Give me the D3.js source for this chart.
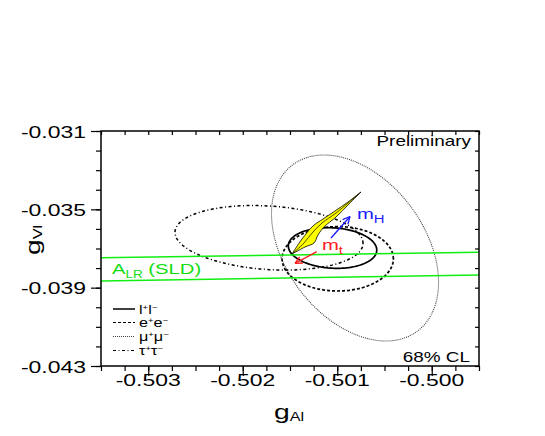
<!DOCTYPE html>
<html>
<head>
<meta charset="utf-8">
<script src="https://cdn.jsdelivr.net/npm/d3@7"></script>
<style>
  body { margin: 0; background: #fff; }
  text { font-family: "Liberation Sans", Arial, sans-serif; }
</style>
</head>
<body>
<div id="chart"></div>
<script>
// axis ranges and labels
var xDomain = [-0.5035, -0.4995];
var yDomain = [-0.043, -0.031];
var xTickLabels = [-0.503, -0.502, -0.501, -0.500];
var yTickLabels = [-0.031, -0.035, -0.039, -0.043];

// 68% CL contours: centre, half extents, correlation
var ellNames  = ["ll", "ee", "mumu", "tautau"];
var ellCenterA = [-0.50105, -0.500995, -0.500812, -0.501722];
var ellCenterV = [-0.036975, -0.037526, -0.036975, -0.036454];
var ellSigmaA  = [0.000468, 0.000589, 0.000884, 0.000995];
var ellSigmaV  = [0.001037, 0.001644, 0.004749, 0.001649];
var ellRho     = [-0.1, 0.0, -0.37, -0.17];

// SM prediction band (yellow)
var bandUpperA = [-0.501479, -0.501373, -0.501257, -0.501151, -0.501024, -0.500886, -0.500749];
var bandUpperV = [-0.037281, -0.036515, -0.035851, -0.035494, -0.035085, -0.034626, -0.034115];
var bandLowerA = [-0.501479, -0.501341, -0.501246, -0.501204, -0.50114, -0.501013, -0.500876, -0.500749];
var bandLowerV = [-0.037281, -0.036923, -0.036719, -0.036311, -0.035902, -0.035392, -0.034728, -0.034115];
var bandMidA = [-0.501479, -0.501352, -0.501257, -0.501161, -0.501013, -0.500749];
var bandMidV = [-0.037281, -0.036719, -0.036158, -0.035698, -0.035187, -0.034115];

// A_LR (SLD) band edges
var alrA = [-0.5035, -0.4995];
var alrUpperV = [-0.037471, -0.037195];
var alrLowerV = [-0.038661, -0.038354];

// arrows: [gA start, gV start, gA end, gV end]
var mHArrow = [-0.501066, -0.036464, -0.500865, -0.035366];
var mtArrow = [-0.501217, -0.037163, -0.501447, -0.037756];

var W = 545, H = 436;
var SX = 1.35; // wide lettering

var svg = d3.select("#chart").append("svg")
    .attr("width", W)
    .attr("height", H);

var x = d3.scaleLinear().domain(xDomain).range([101, 479]);
var y = d3.scaleLinear().domain(yDomain).range([366, 131]);

// ticks
var xMinor = d3.range(0, 17).map(function(i) { return +(xDomain[0] + i * 0.00025).toFixed(5); });
var yMinor = y.ticks(12);

function noLabels(a) { return a.tickFormat(""); }

svg.append("g").attr("transform", "translate(0,366)")
    .call(noLabels(d3.axisBottom(x).tickValues(xMinor).tickSize(5)));
svg.append("g").attr("transform", "translate(0,366)")
    .call(noLabels(d3.axisBottom(x).tickValues(xTickLabels).tickSize(10)));
svg.append("g").attr("transform", "translate(0,131)")
    .call(noLabels(d3.axisBottom(x).tickValues(xMinor).tickSize(4)));
svg.append("g").attr("transform", "translate(101,0)")
    .call(noLabels(d3.axisLeft(y).tickValues(yMinor).tickSize(5)));
svg.append("g").attr("transform", "translate(101,0)")
    .call(noLabels(d3.axisLeft(y).tickValues(yTickLabels).tickSize(10)));
svg.append("g").attr("transform", "translate(479,0)")
    .call(noLabels(d3.axisLeft(y).tickValues(yMinor).tickSize(-4).tickSizeInner(4)));

svg.selectAll(".domain").remove();
svg.selectAll(".tick line").attr("stroke", "#000").attr("stroke-width", 1.2);

// text helper: parts = [{t, size, dy}]
function label(sel, px, py, anchor, size, parts, color, rot) {
    var tr = "translate(" + px + "," + py + ")" + (rot ? " rotate(" + rot + ")" : "") + " scale(" + SX + ",1)";
    var t = sel.append("text")
        .attr("transform", tr)
        .attr("text-anchor", anchor)
        .attr("fill", color || "#000")
        .style("font-size", size + "px");
    parts.forEach(function(p) {
        t.append("tspan")
            .attr("dy", p.dy || 0)
            .style("font-size", (p.size || size) + "px")
            .text(p.t);
    });
    return t;
}

function fmt(v) { return v.toFixed(3).replace("\u2212", "-"); }

xTickLabels.forEach(function(v) {
    label(svg, x(v), 386, "middle", 17, [{t: fmt(v)}]);
});
yTickLabels.forEach(function(v) {
    label(svg, 86, y(v) + 6.5, "end", 17, [{t: fmt(v)}]);
});

// axis titles
label(svg, 289, 419, "middle", 21, [{t: "g"}, {t: "Al", size: 12, dy: 2}]);
label(svg, 40, 240, "middle", 21, [{t: "g"}, {t: "Vl", size: 12, dy: 2}], "#000", -90);

// clip to frame
svg.append("clipPath").attr("id", "frame")
    .append("rect").attr("x", 101).attr("y", 131).attr("width", 378).attr("height", 235);

var plot = svg.append("g").attr("clip-path", "url(#frame)");

// contour ellipses
var ellStyles = {
    ll:     {w: 1.7, dash: null, color: "#000"},
    ee:     {w: 1.7, dash: "3,2", color: "#000"},
    mumu:   {w: 1.1, dash: "1,1", color: "#444"},
    tautau: {w: 1.5, dash: "3,2.5,1,2.5", color: "#000"}
};

var angles = d3.range(0, 361, 3).map(function(d) { return d * Math.PI / 180; });
var line = d3.line().x(function(d) { return x(d[0]); }).y(function(d) { return y(d[1]); });

ellNames.forEach(function(n, i) {
    var delta = Math.acos(ellRho[i]);
    var pts = angles.map(function(t) {
        return [ellCenterA[i] + ellSigmaA[i] * Math.cos(t),
                ellCenterV[i] + ellSigmaV[i] * Math.cos(t - delta)];
    });
    var s = ellStyles[n];
    plot.append("path")
        .attr("d", line(pts) + "Z")
        .attr("fill", "none")
        .attr("stroke", s.color)
        .attr("stroke-width", s.w)
        .attr("stroke-dasharray", s.dash);
});

// yellow band
var smooth = d3.line().x(function(d) { return x(d[0]); }).y(function(d) { return y(d[1]); })
    .curve(d3.curveCatmullRom);
var upper = bandUpperA.map(function(a, i) { return [a, bandUpperV[i]]; });
var lower = bandLowerA.map(function(a, i) { return [a, bandLowerV[i]]; });
var mid = bandMidA.map(function(a, i) { return [a, bandMidV[i]]; });

plot.append("path")
    .attr("d", smooth(upper) + "L" + smooth(lower.slice().reverse()).slice(1) + "Z")
    .attr("fill", "#ffff00")
    .attr("stroke", "#000")
    .attr("stroke-width", 0.8);
plot.append("path")
    .attr("d", smooth(mid))
    .attr("fill", "none")
    .attr("stroke", "#000")
    .attr("stroke-width", 0.7);

// A_LR lines
[alrUpperV, alrLowerV].forEach(function(v) {
    plot.append("line")
        .attr("x1", x(alrA[0])).attr("y1", y(v[0]))
        .attr("x2", x(alrA[1])).attr("y2", y(v[1]))
        .attr("stroke", "#11ee11")
        .attr("stroke-width", 1.5);
});

// arrows
function arrow(a, color) {
    var x1 = x(a[0]), y1 = y(a[1]), x2 = x(a[2]), y2 = y(a[3]);
    var ang = Math.atan2(y2 - y1, x2 - x1);
    var g = plot.append("g").attr("stroke", color).attr("stroke-width", 1.3).attr("fill", "none");
    g.append("line").attr("x1", x1).attr("y1", y1).attr("x2", x2).attr("y2", y2);
    [-0.45, 0.45].forEach(function(o) {
        g.append("line")
            .attr("x1", x2).attr("y1", y2)
            .attr("x2", x2 - 8 * Math.cos(ang + o))
            .attr("y2", y2 - 8 * Math.sin(ang + o));
    });
}
arrow(mHArrow, "#1a1aff");
arrow(mtArrow, "#ff1a1a");

label(svg, 357, 219, "start", 15, [{t: "m"}, {t: "H", size: 11, dy: 4}], "#1a1aff");
label(svg, 322, 250, "start", 15, [{t: "m"}, {t: "t", size: 11, dy: 4}], "#ff1a1a");
label(svg, 112, 274, "start", 15, [{t: "A"}, {t: "LR", size: 10, dy: 4}, {t: " (SLD)", dy: -4}], "#11dd11");

label(svg, 471, 145.5, "end", 14, [{t: "Preliminary"}]);
label(svg, 470, 361.5, "end", 14, [{t: "68% CL"}]);

// legend
var legNames = ["ll", "ee", "mumu", "tautau"];
var legBase = ["l", "e", "\u03bc", "\u03c4"];
var legY = [309, 322.5, 336.5, 350.5];
legNames.forEach(function(n, i) {
    var s = ellStyles[n];
    svg.append("line")
        .attr("x1", 113).attr("x2", 135)
        .attr("y1", legY[i]).attr("y2", legY[i])
        .attr("stroke", s.color)
        .attr("stroke-width", n === "ll" ? 1.5 : 1.1)
        .attr("stroke-dasharray", s.dash);
    label(svg, 139, legY[i] + 4.5, "start", 12, [
        {t: legBase[i]}, {t: "+", size: 7, dy: -4}, {t: legBase[i], dy: 4}, {t: "\u2212", size: 7, dy: -4}
    ]);
});

// frame
svg.append("rect")
    .attr("x", 101).attr("y", 131).attr("width", 378).attr("height", 235)
    .attr("fill", "none").attr("stroke", "#000").attr("stroke-width", 1.5);
</script>
</body>
</html>
